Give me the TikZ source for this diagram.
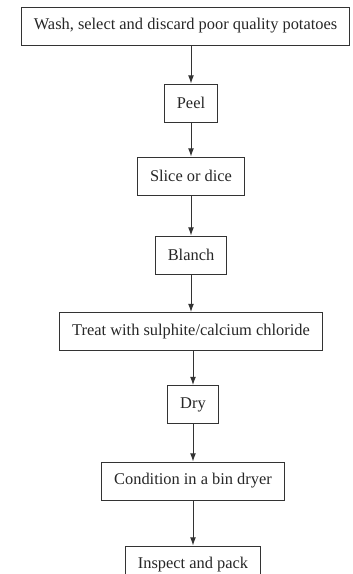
\documentclass[tikz,border=0pt]{standalone}
\usepackage{fontspec}
\setmainfont{Liberation Serif}
\usetikzlibrary{arrows.meta}

\tikzset{
  stepbox/.style={draw=black!80, line width=0.8pt, text=black!85,
    inner xsep=0.38cm, minimum height=1.14cm,
    font=\fontsize{14}{16}\selectfont},
  flow/.style={draw=black!80, line width=0.8pt, -{Latex[length=7pt,width=5pt]}}
}

\begin{document}
\begin{tikzpicture}[x=0.03cm, y=-0.03cm]
  % cadre de la figure
  \useasboundingbox (0,0) rectangle (352,574);
  \clip (0,0) rectangle (352,574);

  % Les etapes du procede
  \node[stepbox, minimum width=327*0.03cm] (wash) at (185.5,26) {Wash, select and discard poor quality potatoes};
  \node[stepbox] (peel) at (191,103) {Peel};
  \node[stepbox] (slice) at (191,176) {Slice or dice};
  \node[stepbox] (blanch) at (191,255) {Blanch};
  \node[stepbox] (treat) at (191,331.5) {Treat with sulphite/calcium chloride};
  \node[stepbox] (dry) at (193,404.5) {Dry};
  \node[stepbox] (cond) at (193,481) {Condition in a bin dryer};
  \node[stepbox] (inspect) at (193,565) {Inspect and pack};

  % Les fleches
  \draw[flow] (peel.north |- wash.south) -- (peel.north);
  \foreach \a/\b in {peel/slice, slice/blanch, blanch/treat} {
    \draw[flow] (\a.south) -- (\b.north);
  }
  \draw[flow] (dry.north |- treat.south) -- (dry.north);
  \foreach \a/\b in {dry/cond, cond/inspect} {
    \draw[flow] (\a.south) -- (\b.north);
  }
\end{tikzpicture}
\end{document}
